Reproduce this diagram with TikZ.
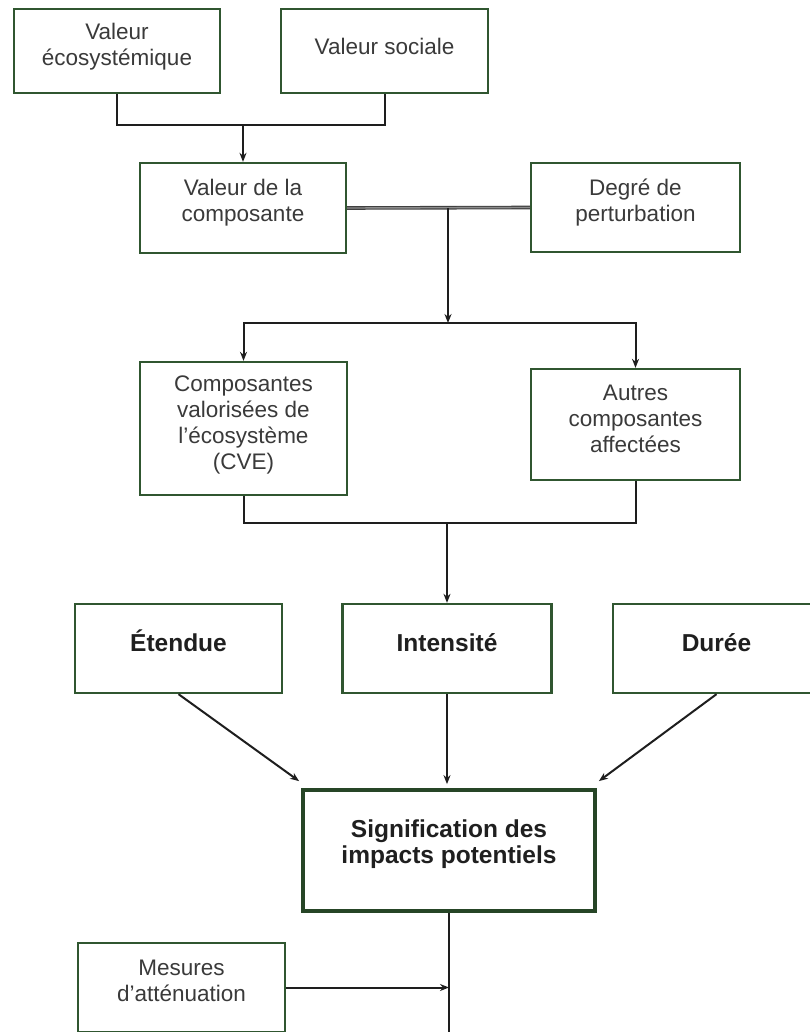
\documentclass[tikz,border=0pt]{standalone}
\usepackage{fontspec}
\setmainfont{Liberation Sans}
\usetikzlibrary{arrows.meta}
\definecolor{boxgreen}{RGB}{48,86,48}
\definecolor{txtgray}{RGB}{58,58,58}
\definecolor{linegray}{RGB}{30,30,30}
\tikzset{
  box/.style={draw=boxgreen, line width=2.3pt, rectangle, inner sep=0pt, fill=white},
  bigbox/.style={draw=boxgreen!80!black, line width=3.8pt, rectangle, inner sep=0pt, fill=white},
  lbl/.style={align=center, text=txtgray, font=\fontsize{22.5}{26}\selectfont, inner sep=0pt},
  blbl/.style={anchor=base, text=black!88, font=\fontsize{24.5}{27}\selectfont\bfseries, inner sep=0pt},
  slbl/.style={align=center, text=black!88, font=\fontsize{24.5}{26}\selectfont\bfseries, inner sep=0pt},
  conn/.style={draw=linegray, line width=2pt},
  arr/.style={conn, -{Stealth[length=9pt,width=7pt]}},
}
\begin{document}
\begin{tikzpicture}[x=1pt,y=-1pt]
\useasboundingbox (0,0) rectangle (809,1032);
\fill[white] (0,0) rectangle (809,1032);
% boxes
\node[box, minimum width=206, minimum height=84] (b1) at (117,51) {};
\node[box, minimum width=207, minimum height=84] (b2) at (384.5,51) {};
\node[box, minimum width=206, minimum height=90] (b3) at (243,208) {};
\node[box, minimum width=209, minimum height=89] (b4) at (635.5,207.5) {};
\node[box, minimum width=207, minimum height=133] (b5) at (243.5,428.5) {};
\node[box, minimum width=209, minimum height=111] (b6) at (635.5,424.5) {};
\node[box, minimum width=207, minimum height=89] (b7) at (178.5,648.5) {};
\node[box, minimum width=209, minimum height=89] (b8) at (447,648.5) {};
\node[box, minimum width=207, minimum height=89] (b9) at (716.5,648.5) {};
\node[bigbox, minimum width=292, minimum height=121] (b10) at (449,850.5) {};
\node[box, minimum width=207, minimum height=89] (b11) at (181.5,987.5) {};
% labels
\node[lbl] (t1) at ([yshift=4pt]b1.center) {Valeur\\écosystémique};
\node[lbl] (t2) at ([yshift=5pt]b2.center) {Valeur sociale};
\node[lbl] (t3) at ([yshift=5pt]b3.center) {Valeur de la\\composante};
\node[lbl] (t4) at ([yshift=5pt]b4.center) {Degré de\\perturbation};
\node[lbl] (t5) at ([yshift=4pt]b5.center) {Composantes\\valorisées de\\l’écosystème\\(CVE)};
\node[lbl] (t6) at ([yshift=6pt]b6.center) {Autres\\composantes\\affectées};
\node[blbl] (t7) at ([yshift=-2.5pt]b7.center) {Étendue};
\node[blbl] (t8) at ([yshift=-2.5pt]b8.center) {Intensité};
\node[blbl] (t9) at ([yshift=-2.5pt]b9.center) {Durée};
\node[slbl] (t10) at ([yshift=6pt]b10.center) {Signification des\\impacts potentiels};
\node[lbl] (t11) at ([yshift=7pt]b11.center) {Mesures\\d’atténuation};
% junctions
\coordinate (j1) at (243,125);
\coordinate (j2) at (448,208);
\coordinate (j3) at (448,323);
\coordinate (j4) at (447,523);
\coordinate (jend) at (449,1045);
% connectors
\draw[conn] (b1.south) |- (j1) -| (b2.south);
\draw[arr] (j1) -- (b3.north);
\draw[draw=black!75, double=black!45, double distance=1.4pt, line width=1.1pt] (b3.east) -- (b4.west);
\draw[arr] (j2) -- (j3);
\draw[arr] (j3) -| (b5.north);
\draw[arr] (j3) -| (b6.north);
\draw[conn] (b5.south) |- (j4) -| (b6.south);
\draw[arr] (j4) -- (b8.north);
\draw[arr] (b7.south) -- ([shift={(-2pt,7pt)}]b10.north west);
\draw[arr] (b8.south) -- ([yshift=4pt]b10.north -| b8.south);
\draw[arr] (b9.south) -- ([shift={(2pt,7pt)}]b10.north east);
\draw[conn] (b10.south) -- (jend);
\draw[arr] (b11.east) -- (b11.east -| b10.south);
\end{tikzpicture}
\end{document}
